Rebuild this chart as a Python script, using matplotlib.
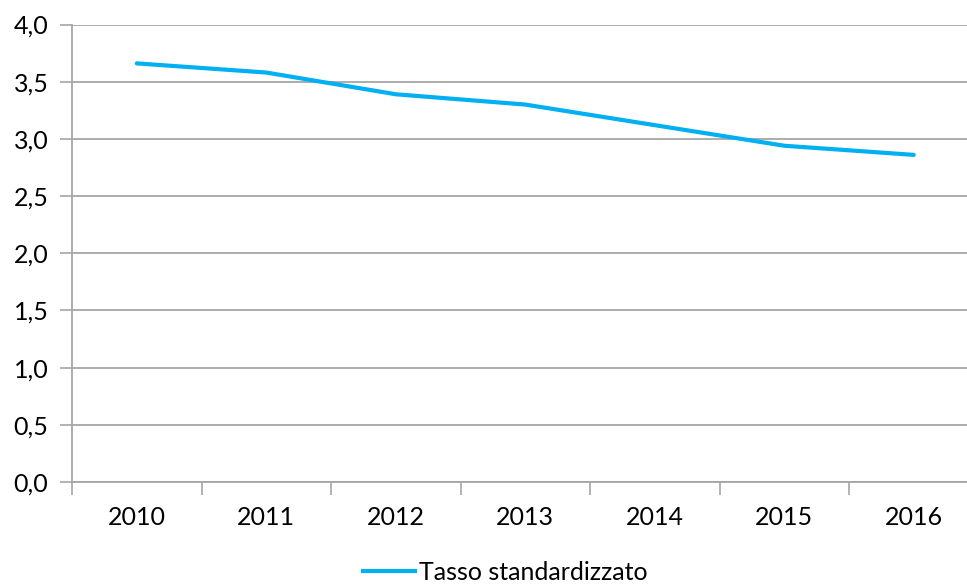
import matplotlib
matplotlib.use("Agg")
import matplotlib.pyplot as plt
from matplotlib.lines import Line2D

years = ["2010", "2011", "2012", "2013", "2014", "2015", "2016"]
tasso = [3.66, 3.58, 3.39, 3.30, 3.12, 2.94, 2.86]
yticks = [0.0, 0.5, 1.0, 1.5, 2.0, 2.5, 3.0, 3.5, 4.0]
ylabels = ["0,0", "0,5", "1,0", "1,5", "2,0", "2,5", "3,0", "3,5", "4,0"]
series_name = "Tasso standardizzato"

plt.rcParams['font.family'] = ['Lato', 'DejaVu Sans']
W, H = 967, 584
fig = plt.figure(figsize=(W / 100, H / 100), dpi=100)
left, bottom, top = 72, 482, 24.5
width = 7 * 129.5
ax = fig.add_axes([left / W, 1 - bottom / H, width / W, (bottom - top) / H])

grid_c = "#A6A6A6"
fs = 18
x = list(range(len(years)))
ax.plot(x, tasso, color="#00B0F0", lw=3.0, solid_capstyle="round", zorder=3)

ax.set_xlim(-0.5, len(years) - 0.5)
ax.set_ylim(0, 4.0)
ax.set_yticks(yticks)
ax.set_yticklabels(ylabels)
ax.set_xticks(x)
ax.set_xticklabels(years)
ax.set_xticks([i - 0.5 for i in range(len(years) + 1)], minor=True)
ax.tick_params(axis="x", which="major", length=0, pad=17, labelsize=fs, colors="black")
ax.tick_params(axis="x", which="minor", length=9, width=1.2, color=grid_c)
ax.tick_params(axis="y", length=9, width=1.2, color=grid_c, pad=8, labelsize=fs, labelcolor="black")

ax.yaxis.grid(True, color=grid_c, lw=1.3)
ax.set_axisbelow(True)
for s in ["top", "right"]:
    ax.spines[s].set_visible(False)
for s in ["left", "bottom"]:
    ax.spines[s].set_color(grid_c)
    ax.spines[s].set_linewidth(1.3)

handle = Line2D([], [], color="#00B0F0", lw=3.0)
fig.legend([handle], [series_name], loc="center", bbox_to_anchor=(505 / W, 1 - 572 / H),
           frameon=False, fontsize=fs, handlelength=2.1, handletextpad=0.15)

fig.savefig("out.png", dpi=100)
